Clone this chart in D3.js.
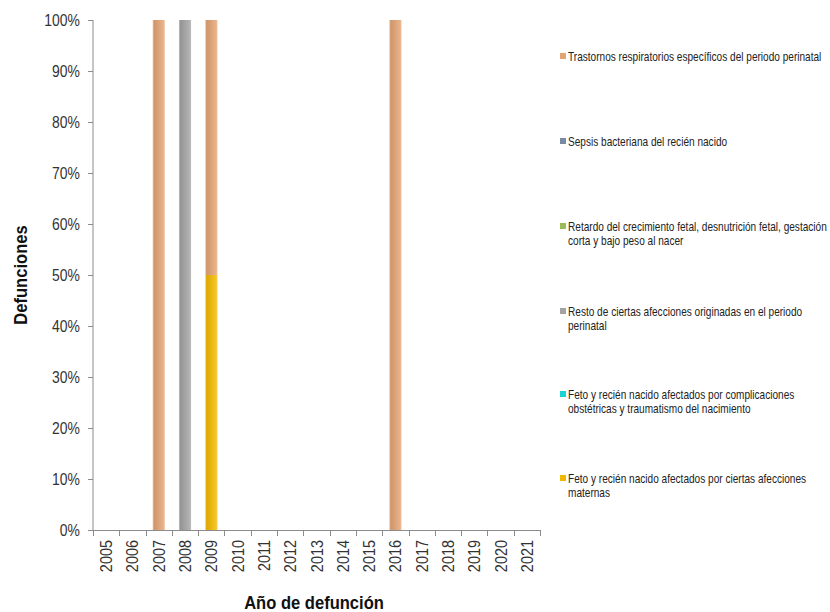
<!DOCTYPE html>
<html><head><meta charset="utf-8">
<script src="https://cdn.jsdelivr.net/npm/d3@7"></script>
<style>
body{margin:0;background:#fff;}
text{font-family:"Liberation Sans",Arial,sans-serif;}
</style></head><body>
<svg id="c" width="830" height="612"></svg>
<script>
const years = ["2005","2006","2007","2008","2009","2010","2011","2012","2013","2014","2015","2016","2017","2018","2019","2020","2021"];
// series in stacking order (bottom -> top)
const seriesNames = [
  "Feto y recién nacido afectados por ciertas afecciones maternas",
  "Feto y recién nacido afectados por complicaciones obstétricas y traumatismo del nacimiento",
  "Resto de ciertas afecciones originadas en el periodo perinatal",
  "Retardo del crecimiento fetal, desnutrición fetal, gestación corta y bajo peso al nacer",
  "Sepsis bacteriana del recién nacido",
  "Trastornos respiratorios específicos del periodo perinatal"
];
const legendLines = [
  ["Feto y recién nacido afectados por ciertas afecciones","maternas"],
  ["Feto y recién nacido afectados por complicaciones","obstétricas y traumatismo del nacimiento"],
  ["Resto de ciertas afecciones originadas en el periodo","perinatal"],
  ["Retardo del crecimiento fetal, desnutrición fetal, gestación","corta y bajo peso al nacer"],
  ["Sepsis bacteriana del recién nacido"],
  ["Trastornos respiratorios específicos del periodo perinatal"]
];
const colors = ["#f2b800","#19d3d3","#a3a3a3","#9bbb59","#7b8aa3","#e3a373"];
// counts per series per year
const maternas      = [0,0,0,0,1,0,0,0,0,0,0,0,0,0,0,0,0];
const complicaciones= [0,0,0,0,0,0,0,0,0,0,0,0,0,0,0,0,0];
const resto         = [0,0,0,1,0,0,0,0,0,0,0,0,0,0,0,0,0];
const retardo       = [0,0,0,0,0,0,0,0,0,0,0,0,0,0,0,0,0];
const sepsis        = [0,0,0,0,0,0,0,0,0,0,0,0,0,0,0,0,0];
const trastornos    = [0,0,1,0,1,0,0,0,0,0,0,1,0,0,0,0,0];
const seriesValues = [maternas, complicaciones, resto, retardo, sepsis, trastornos];
const yTicks = [0,0.1,0.2,0.3,0.4,0.5,0.6,0.7,0.8,0.9,1];

const table = years.map((y,i)=>{
  const o={year:y};
  seriesNames.forEach((s,k)=>o[s]=seriesValues[k][i]);
  return o;
});
const stack = d3.stack().keys(seriesNames).offset(d3.stackOffsetExpand);
const layers = stack(table);

const svg = d3.select("#c");
const m = {l:93, r:540, t:20, b:530};
const x = d3.scaleBand().domain(years).range([m.l,m.r]).paddingInner(0.54).paddingOuter(0.27);
const xb = d3.scaleBand().domain(years).range([m.l,m.r]);
const y = d3.scaleLinear().domain([0,1]).range([m.b,m.t]);

const defs = svg.append("defs");
colors.forEach((c,i)=>{
  const g = defs.append("linearGradient").attr("id","g"+i).attr("x1","0").attr("x2","1").attr("y1","0").attr("y2","0");
  const base = d3.color(c);
  g.append("stop").attr("offset","0%").attr("stop-color",d3.interpolateRgb(c,"#fff")(0.35));
  g.append("stop").attr("offset","12%").attr("stop-color",base.darker(0.25));
  g.append("stop").attr("offset","85%").attr("stop-color",d3.interpolateRgb(c,"#fff")(0.15));
  g.append("stop").attr("offset","100%").attr("stop-color",d3.interpolateRgb(c,"#fff")(0.3));
});

// bars
layers.forEach((layer,k)=>{
  svg.append("g").selectAll("rect").data(layer.filter(d=>d[1]-d[0]>0)).join("rect")
    .attr("x",d=>x(d.data.year))
    .attr("width",x.bandwidth())
    .attr("y",d=>y(d[1]))
    .attr("height",d=>y(d[0])-y(d[1]))
    .attr("fill","url(#g"+k+")");
});

// y axis
const axisColor="#8c8c8c";
svg.append("line").attr("x1",m.l).attr("x2",m.l).attr("y1",m.t).attr("y2",m.b).attr("stroke",axisColor);
svg.append("g").selectAll("line").data(yTicks).join("line")
  .attr("x1",m.l-5).attr("x2",m.l).attr("y1",d=>Math.round(y(d))+0.5).attr("y2",d=>Math.round(y(d))+0.5).attr("stroke",axisColor);
svg.append("g").selectAll("text").data(yTicks).join("text")
  .attr("transform",d=>`translate(80,${y(d)+6}) scale(0.82,1)`).attr("text-anchor","end")
  .attr("font-size",17).attr("fill","#333").text(d3.format(".0%"));

// x axis
svg.append("line").attr("x1",m.l).attr("x2",m.r).attr("y1",m.b+0.5).attr("y2",m.b+0.5).attr("stroke",axisColor);
const bounds = years.map(d=>xb(d)).concat([m.r]);
svg.append("g").selectAll("line").data(bounds).join("line")
  .attr("x1",d=>Math.round(d)+0.5).attr("x2",d=>Math.round(d)+0.5).attr("y1",m.b).attr("y2",m.b+6).attr("stroke",axisColor);
svg.append("g").selectAll("text").data(years).join("text")
  .attr("transform",d=>`translate(${xb(d)+xb.bandwidth()/2+6},${m.b+10}) rotate(-90) scale(0.85,1)`)
  .attr("text-anchor","end").attr("font-size",17).attr("fill","#333").text(d=>d);

// titles
svg.append("text").attr("transform","translate(314,609) scale(0.92,1)").attr("text-anchor","middle")
  .attr("font-size",18).attr("font-weight","bold").attr("fill","#111").text("Año de defunción");
svg.append("text").attr("transform","translate(27,275) rotate(-90) scale(0.92,1)").attr("text-anchor","middle")
  .attr("font-size",18).attr("font-weight","bold").attr("fill","#111").text("Defunciones");

// legend (top to bottom = reverse stacking order)
const legY = [57,142,227,312,395,479];
const legOrder = [5,4,3,2,1,0];
legOrder.forEach((k,i)=>{
  const g = svg.append("g");
  g.append("rect").attr("x",560).attr("y",legY[i]-4).attr("width",6).attr("height",6).attr("fill",colors[k]);
  g.append("text").attr("transform",`translate(568,${legY[i]+4}) scale(0.84,1)`).attr("font-size",12).attr("fill","#222")
    .selectAll("tspan").data(legendLines[k]).join("tspan")
    .attr("x",0).attr("dy",(d,j)=>j?14:0).text(d=>d);
});
</script></body></html>
